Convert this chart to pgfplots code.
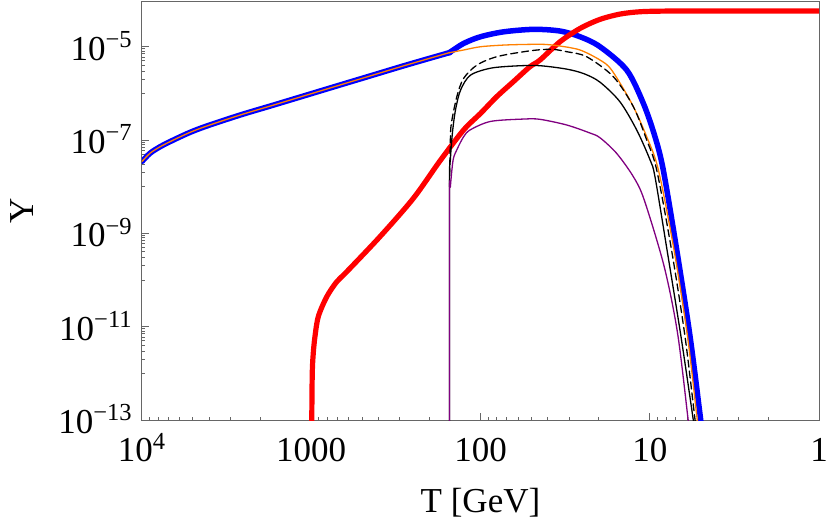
\documentclass[border=0pt]{standalone}
\usepackage{fontspec}
\setmainfont{Liberation Serif}
\usepackage{pgfplots}
\pgfplotsset{compat=1.18}
\definecolor{mmaorange}{rgb}{1,0.5,0}
\definecolor{mmapurple}{rgb}{0.5,0,0.5}
\definecolor{framegray}{gray}{0.4}
\begin{document}
\begin{tikzpicture}
\useasboundingbox (-71bp,-50.5bp) rectangle (344bp,210bp);
\begin{axis}[
  at={(0,0)}, anchor=south west, scale only axis,
  width=338.5bp, height=209.5bp,
  xmode=log, ymode=log, x dir=reverse,
  xmin=1, xmax=10000, ymin=1e-13, ymax=9.55e-5,
  axis line style={framegray, line width=0.5bp},
  every tick/.style={framegray, line width=0.5bp},
  major tick length=3.5bp, minor tick length=1.75bp,
  tick pos=left,
  xtick={1,10,100,1000,10000},
  xticklabels={1,10,100,1000,10\textsuperscript{4}},
  minor xtick={2,3,4,5,6,7,8,9,20,30,40,50,60,70,80,90,200,300,400,500,600,700,800,900,2000,3000,4000,5000,6000,7000,8000,9000},
  ytick={1e-13,1e-11,1e-9,1e-7,1e-5},
  yticklabels={10\textsuperscript{−13},10\textsuperscript{−11},10\textsuperscript{−9},10\textsuperscript{−7},10\textsuperscript{−5}},
  minor ytick={1e-12,2e-12,3e-12,4e-12,5e-12,6e-12,7e-12,8e-12,9e-12,
               1e-10,2e-10,3e-10,4e-10,5e-10,6e-10,7e-10,8e-10,9e-10,
               1e-8,2e-8,3e-8,4e-8,5e-8,6e-8,7e-8,8e-8,9e-8,
               1e-6,2e-6,3e-6,4e-6,5e-6,6e-6,7e-6,8e-6,9e-6},
  tick label style={font=\fontsize{17.5bp}{21bp}\selectfont, inner sep=0pt},
  xticklabel style={anchor=base, yshift=-20.85bp},
  yticklabel style={anchor=base east, xshift=-4.5bp, yshift=-6.7bp},
  xlabel={T [GeV]}, ylabel={Y},
  label style={font=\fontsize{17.5bp}{21bp}\selectfont, inner sep=0pt},
  xlabel style={at={([yshift=-46.35bp]rel axis cs:0.5,0)}, anchor=base},
  ylabel style={at={([xshift=-54.35bp]rel axis cs:0,0.5)}, anchor=base},
  every axis plot/.append style={line join=round, line cap=round},
]
% blue (total), before the transition
\addplot[blue, line width=2.75bp, smooth] coordinates {
(10000,3.47e-8) (8974,5.20e-8) (7816,7.19e-8) (6531,1.0e-7) (5200,1.462e-7)
(4140,2.0e-7) (2630,3.44e-7) (1671,5.62e-7) (1062,9.23e-7) (676,1.514e-6)
(430,2.48e-6) (273,4.07e-6) (158.5,7.19e-6) (153,7.43e-6)};
% blue, after the transition
\addplot[blue, line width=2.75bp, smooth] coordinates {
(153,7.43e-6) (125.9,1.175e-5) (100,1.637e-5) (72.8,2.09e-5) (48.4,2.36e-5)
(33.9,2.17e-5) (25.8,1.637e-5) (19.68,1.0e-5) (13.68,3.16e-6) (10.91,6.12e-7)
(9.31,1.175e-7) (8.32,2.29e-8) (6.93,4.45e-10) (5.78,6.17e-12) (5.0,1e-13)
(4.85,4.1e-14)};
% red
\addplot[red, line width=2.6bp, smooth] coordinates {
(997.7,1e-14) (993.1,9.33e-14) (986.3,1e-12) (972.9,2.69e-12) (950.6,6.17e-12)
(907.8,1.66e-11) (810.3,4.37e-11) (707.9,9.12e-11) (616.6,1.51e-10)
(392.6,8.51e-10) (249.5,5.62e-9) (173.8,3.55e-8) (125.9,1.64e-7) (100,3.72e-7)
(80.2,8.51e-7) (64.0,1.78e-6) (51.1,3.72e-6) (44.5,5.19e-6) (33.9,1.28e-5)
(25.8,2.47e-5) (19.68,3.86e-5) (15.0,5.01e-5) (11.43,5.62e-5) (7.94,5.81e-5)
(4,5.81e-5) (1,5.81e-5)};
% orange, before the transition
\addplot[mmaorange, line width=0.65bp, smooth] coordinates {
(10000,3.47e-8) (8974,5.20e-8) (7816,7.19e-8) (6531,1.0e-7) (5200,1.462e-7)
(4140,2.0e-7) (2630,3.44e-7) (1671,5.62e-7) (1062,9.23e-7) (676,1.514e-6)
(430,2.48e-6) (273,4.07e-6) (158.5,7.19e-6) (153,7.43e-6)};
% orange, after
\addplot[mmaorange, line width=0.65bp, smooth] coordinates {
(153,7.43e-6) (125.9,8.51e-6) (100,1.0e-5) (72.8,1.086e-5) (53.0,1.122e-5)
(41.7,1.122e-5) (33.9,1.035e-5) (25.8,8.51e-6) (19.68,5.19e-6) (16.79,3.16e-6)
(12.79,6.12e-7) (10.42,1.175e-7) (8.89,2.29e-8) (7.19,4.45e-10) (5.98,6.17e-12)
(5.24,1e-13) (5.08,4.6e-14)};
% black dashed
\addplot[black, line width=0.65bp, dash pattern=on 3.5bp off 2bp, smooth] coordinates {
(152.4,1e-8) (150.7,1e-7) (148.6,2.29e-7) (138.0,8.51e-7) (125.9,2.09e-6)
(104.7,4.07e-6) (79.4,6.17e-6) (50.6,8.20e-6) (38.0,8.81e-6) (30.9,7.82e-6)
(23.6,6.11e-6) (16.41,2.28e-6) (12.50,5.19e-7) (10.42,1.0e-7) (9.10,2.29e-8)
(7.44,4.45e-10) (6.19,6.17e-12) (5.40,1e-13) (5.26,4.7e-14)};
% black solid
\addplot[black, line width=0.65bp, smooth] coordinates {
(152.4,1e-14) (152.4,1e-8) (150.7,3.72e-8) (146.6,1.40e-7) (140.6,4.37e-7)
(131.2,1.175e-6) (114.8,2.45e-6) (87.1,3.47e-6) (60.7,3.89e-6) (44.5,3.92e-6)
(30.9,3.31e-6) (24.4,2.63e-6) (19.68,1.74e-6) (15.0,6.61e-7) (11.94,1.64e-7)
(9.95,3.72e-8) (9.31,1.62e-8) (7.91,4.45e-10) (6.54,6.17e-12) (5.53,1e-13)
(5.37,4.6e-14)};
% purple
\addplot[mmapurple, line width=0.65bp, smooth] coordinates {
(152.4,1e-14) (152.4,5e-9) (150.7,1e-8) (145.2,3.72e-8) (138.0,6.17e-8)
(125.9,1.175e-7) (114.8,1.66e-7) (87.1,2.51e-7) (55.5,2.82e-7) (44.5,2.78e-7)
(30.9,2.10e-7) (22.5,1.41e-7) (19.68,1.12e-7) (15.7,5.20e-8) (12.50,1.64e-8)
(10.79,5.25e-9) (8.22,1.95e-10) (6.85,7.24e-12) (5.93,1e-13) (5.75,4e-14)};
\end{axis}
\end{tikzpicture}
\end{document}
